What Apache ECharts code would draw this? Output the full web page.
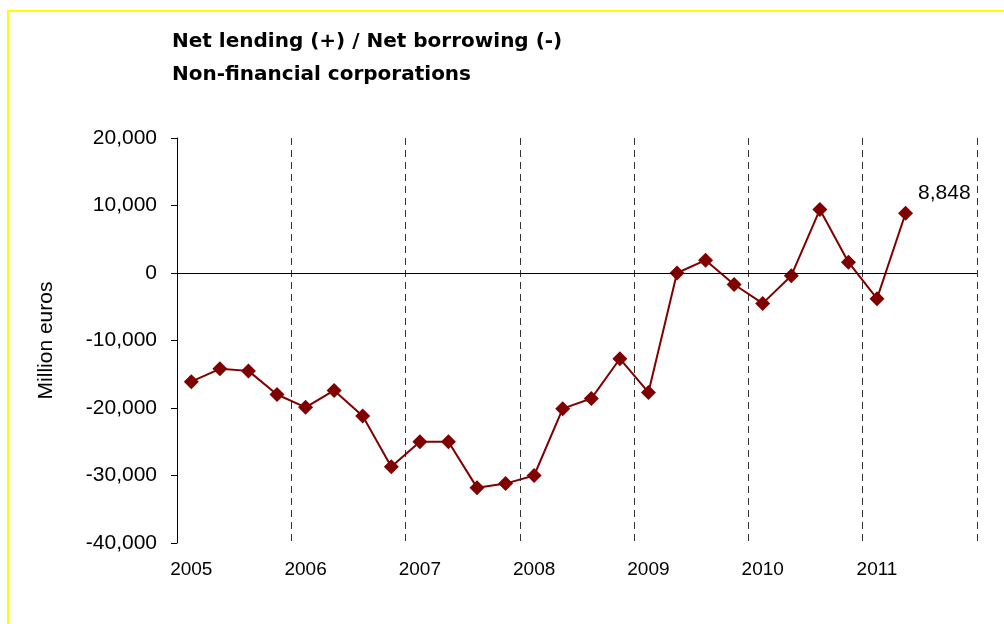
<!DOCTYPE html>
<html>
<head>
<meta charset="utf-8">
<script src="https://cdn.jsdelivr.net/npm/echarts@6/dist/echarts.min.js"></script>
<style>
  html, body { margin: 0; padding: 0; background: #fff; }
  #chart { width: 1004px; height: 624px; }
</style>
</head>
<body>
<div id="chart"></div>
<script>
// quarters 2005Q1 .. 2011Q4 (the last two quarters have no data yet)
const quarters = [
  '2005 Q1', '2005 Q2', '2005 Q3', '2005 Q4',
  '2006 Q1', '2006 Q2', '2006 Q3', '2006 Q4',
  '2007 Q1', '2007 Q2', '2007 Q3', '2007 Q4',
  '2008 Q1', '2008 Q2', '2008 Q3', '2008 Q4',
  '2009 Q1', '2009 Q2', '2009 Q3', '2009 Q4',
  '2010 Q1', '2010 Q2', '2010 Q3', '2010 Q4',
  '2011 Q1', '2011 Q2', '2011 Q3', '2011 Q4'
];
// net lending / borrowing, million euros
const netLending = [
  -16100, -14200, -14500, -18000,
  -19900, -17400, -21200, -28700,
  -25000, -25000, -31800, -31200,
  -30000, -20100, -18600, -12700,
  -17700, 0, 1900, -1700,
  -4500, -400, 9400, 1600,
  -3800, 8848
];
const yTicks = { min: -40000, max: 20000, step: 10000 };

const FONT = 'Liberation Sans';
const fmt = v => String(v).replace(/\B(?=(\d{3})+(?!\d))/g, ',');

const chart = echarts.init(document.getElementById('chart'));

const last = netLending.length - 1;
const seriesData = netLending.map((v, i) => {
  if (i !== last) return v;
  return {
    value: v,
    label: {
      show: true,
      position: 'right',
      offset: [0, -20],
      formatter: p => fmt(p.value),
      color: '#000',
      fontSize: 21,
      fontFamily: FONT
    }
  };
});

const option = {
  animation: false,
  backgroundColor: '#fff',
  textStyle: { fontFamily: FONT },
  title: {
    text: 'Net lending (+) / Net borrowing (-)\nNon-financial corporations',
    left: 172,
    top: 25,
    padding: 0,
    textStyle: {
      fontFamily: 'DejaVu Sans',
      fontWeight: 'bold',
      fontSize: 20,
      lineHeight: 33,
      color: '#000'
    }
  },
  graphic: [
    {
      type: 'polyline',
      silent: true,
      shape: { points: [[8, 700], [8, 11], [1100, 11]] },
      style: { stroke: '#ffff00', lineWidth: 2, fill: null }
    }
  ],
  grid: {
    left: 177,
    right: 27,
    top: 138,
    bottom: 81
  },
  xAxis: [
    {
      type: 'category',
      data: quarters,
      boundaryGap: true,
      position: 'bottom',
      axisLine: { show: false, onZero: false },
      axisTick: { show: false },
      splitLine: { show: false },
      axisLabel: {
        interval: 3,
        margin: 17,
        color: '#000',
        fontSize: 19,
        fontFamily: FONT,
        formatter: v => v.slice(0, 4)
      }
    },
    {
      // year boundaries, dashed
      type: 'value',
      position: 'top',
      min: 0,
      max: 7,
      interval: 1,
      axisLine: { show: false },
      axisTick: { show: false },
      axisLabel: { show: false },
      splitLine: {
        show: true,
        lineStyle: { color: '#333', width: 1, type: [7, 5] }
      }
    }
  ],
  yAxis: {
    type: 'value',
    min: yTicks.min,
    max: yTicks.max,
    interval: yTicks.step,
    name: 'Million euros',
    nameLocation: 'middle',
    nameRotate: 90,
    nameGap: 120,
    nameTextStyle: { color: '#000', fontSize: 21, fontFamily: FONT },
    axisLine: { show: true, lineStyle: { color: '#000', width: 1 } },
    axisTick: { show: true, length: 6, lineStyle: { color: '#000' } },
    splitLine: { show: false },
    axisLabel: {
      margin: 20,
      color: '#000',
      fontSize: 21,
      fontFamily: FONT,
      formatter: v => fmt(v)
    }
  },
  series: [
    {
      type: 'line',
      xAxisIndex: 0,
      data: seriesData,
      symbol: 'diamond',
      symbolSize: 15,
      lineStyle: { color: '#800000', width: 2 },
      itemStyle: { color: '#800000' },
      markLine: {
        silent: true,
        symbol: 'none',
        label: { show: false },
        lineStyle: { color: '#000', width: 1, type: 'solid' },
        data: [{ yAxis: 0 }]
      }
    }
  ]
};

chart.setOption(option);
</script>
</body>
</html>
